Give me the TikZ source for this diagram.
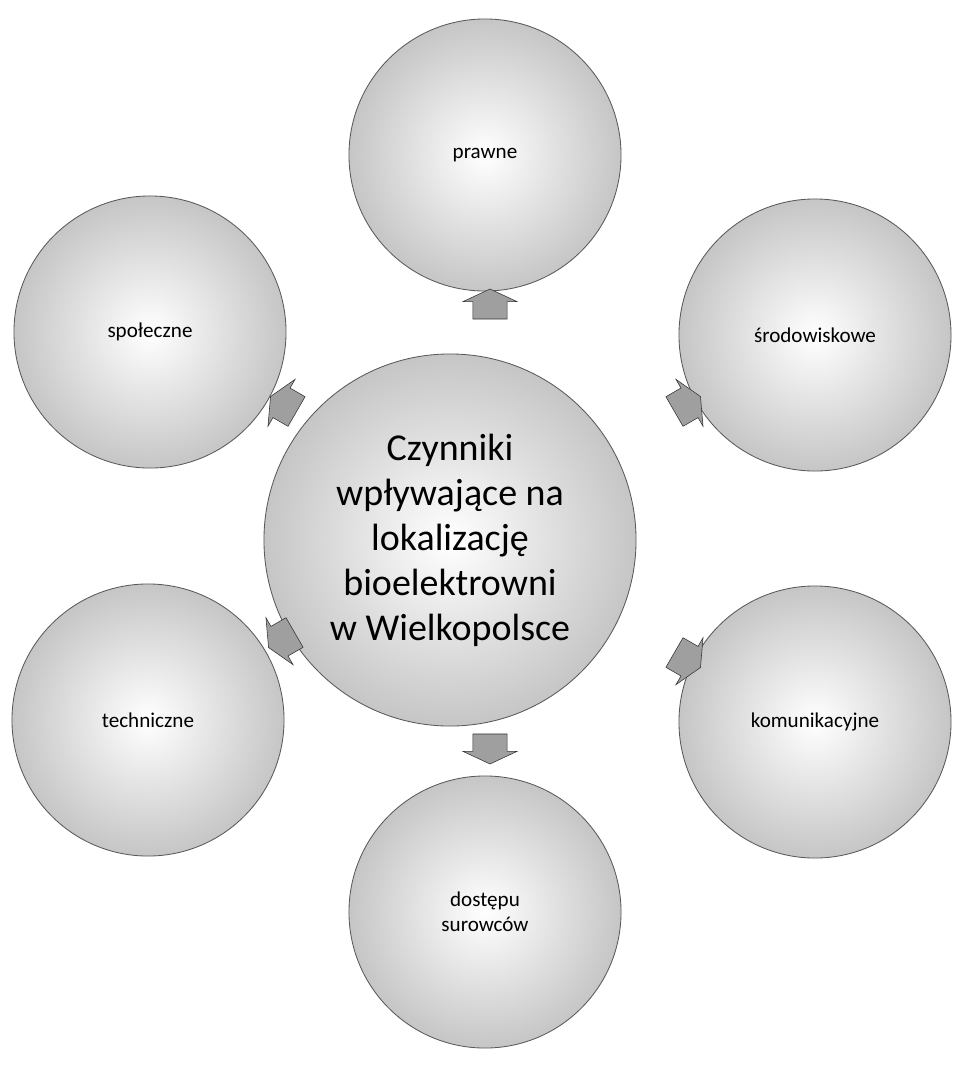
\documentclass[tikz,border=0pt]{standalone}
\usepackage{fontspec}
\setmainfont{Carlito}
\usetikzlibrary{shapes.arrows}
\tikzset{
  ball/.style={circle,draw=gray!70!black,line width=0.6pt,minimum size=6.8cm,
    inner color=white,outer color=gray!45,align=center,font=\fontsize{15}{18}\selectfont},
  bigball/.style={ball,minimum size=9.3cm,font=\fontsize{27}{32}\selectfont},
  pointer/.style={single arrow,draw=gray!40!black,fill=gray!75,minimum height=0.75cm,
    inner xsep=0pt,inner ysep=0.42cm,single arrow head extend=0.25cm,
    single arrow tip angle=130}
}
\begin{document}
\begin{tikzpicture}[x=0.025cm,y=-0.025cm]
    \useasboundingbox (0,0) rectangle (972,1068);
    \node[bigball] (czynniki) at (450,540) {Czynniki\\wpływające na\\lokalizację\\bioelektrowni\\w Wielkopolsce};
    \node[ball] (prawne) at (485,155) {prawne};
    \node[ball] (srodowiskowe) at (815,335) {środowiskowe};
    \node[ball] (komunikacyjne) at (815,722) {komunikacyjne};
    \node[ball] (dostepu) at (485,912) {dostępu\\surowców};
    \node[ball] (techniczne) at (148,720) {techniczne};
    \node[ball] (spoleczne) at (150,332) {społeczne};
    \node[pointer,rotate=90] (p1) at (490,308) {};
    \node[pointer,rotate=30] (p2) at (684,406) {};
    \node[pointer,rotate=-30] (p3) at (684,658) {};
    \node[pointer,rotate=-90] (p4) at (490,745) {};
    \node[pointer,rotate=-150] (p5) at (285,638) {};
    \node[pointer,rotate=150] (p6) at (287,406) {};
\end{tikzpicture}
\end{document}
